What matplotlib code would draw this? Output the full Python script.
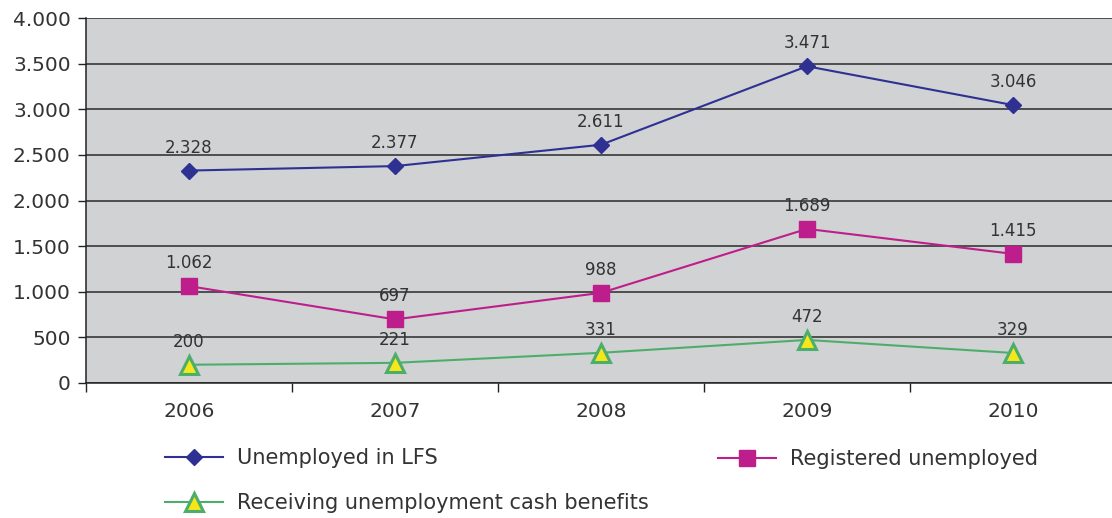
import matplotlib.pyplot as plt
from matplotlib.ticker import FuncFormatter, FixedLocator

# Data
years = ['2006', '2007', '2008', '2009', '2010']
lfs = [2328, 2377, 2611, 3471, 3046]
registered = [1062, 697, 988, 1689, 1415]
benefits = [200, 221, 331, 472, 329]

def thousands(v, pos=None):
    return f'{int(v):,}'.replace(',', '.')

plt.rcParams['font.family'] = ['DejaVu Sans']
txt = '#333333'

fig = plt.figure(figsize=(11.12, 5.18), dpi=100)
W, H = 1112, 518
ax = fig.add_axes([86 / W, 1 - 383 / H, 1030 / W, 365 / H])
ax.set_facecolor('#d1d2d4')

x = range(len(years))
l1, = ax.plot(x, lfs, color='#2e3192', lw=1.5, marker='D', ms=8.6,
              mfc='#2e3192', mec='#2e3192', label='Unemployed in LFS', zorder=3)
l2, = ax.plot(x, registered, color='#be1e8c', lw=1.5, marker='s', ms=11.5,
              mfc='#be1e8c', mec='#be1e8c', label='Registered unemployed', zorder=3)
l3, = ax.plot(x, benefits, color='#4dae6c', lw=1.5, marker='^', ms=12.5,
              mfc='#f5e71a', mec='#4dae6c', mew=2.2, label='Receiving unemployment cash benefits',
              zorder=3)

# value labels above each point
for series in (lfs, registered, benefits):
    for i, v in enumerate(series):
        ax.annotate(thousands(v), (i, v), xytext=(0, 13), textcoords='offset points',
                    ha='center', va='baseline', fontsize=12, color=txt, zorder=4)

ax.set_xlim(-0.5, 4.5)
ax.set_ylim(0, 4000)
ax.set_yticks(range(0, 4001, 500))
ax.yaxis.set_major_formatter(FuncFormatter(thousands))
ax.yaxis.grid(True, color='#2a2a2a', lw=1.1)
ax.set_axisbelow(True)

ax.set_xticks(list(x))
ax.set_xticklabels(years)
ax.xaxis.set_minor_locator(FixedLocator([-0.5, 0.5, 1.5, 2.5, 3.5, 4.5]))
ax.tick_params(axis='x', which='major', length=0, pad=14, labelsize=14.5, labelcolor=txt)
ax.tick_params(axis='x', which='minor', length=6.5, width=1, color='#222222')
ax.tick_params(axis='y', length=6, width=1, color='#222222', pad=5, labelsize=14.5,
               labelcolor=txt)

for side in ('top', 'right'):
    ax.spines[side].set_visible(False)
for side in ('left', 'bottom'):
    ax.spines[side].set_color('#222222')
    ax.spines[side].set_linewidth(1.1)

# legend: two columns placed under the plot
leg_kw = dict(frameon=False, fontsize=15, handlelength=2.8, handletextpad=0.65,
              borderpad=0, borderaxespad=0, labelspacing=1.2, labelcolor=txt)
fig.legend([l1, l3], [l1.get_label(), l3.get_label()], loc='center left',
           bbox_to_anchor=(165 / W, 1 - 480.5 / H), **leg_kw)
fig.legend([l2], [l2.get_label()], loc='center left',
           bbox_to_anchor=(718 / W, 1 - 459 / H), **leg_kw)

fig.savefig('out.png', dpi=100)
